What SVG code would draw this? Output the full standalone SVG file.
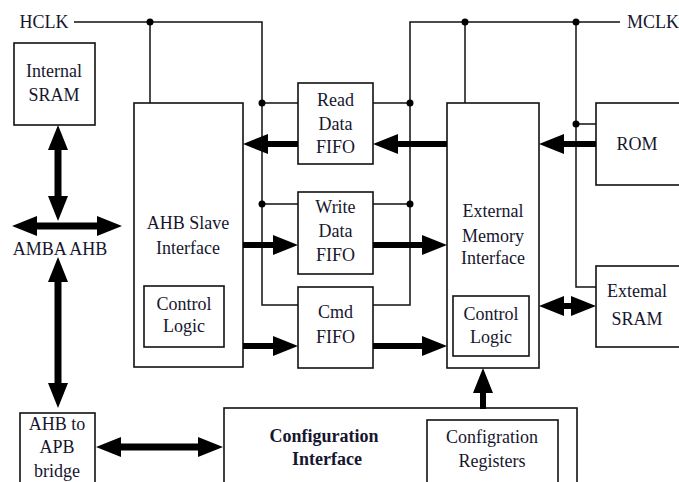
<svg xmlns="http://www.w3.org/2000/svg" width="679" height="482" viewBox="0 0 679 482">
  <defs>
    <!-- solid head for the thick bus arrows; base sits on the path end -->
    <marker id="head" markerUnits="userSpaceOnUse" markerWidth="25" markerHeight="20" viewBox="0 0 25 20" refX="1" refY="10" orient="auto-start-reverse">
      <path d="M0,0 L25,10 L0,20 Z" fill="#000"/>
    </marker>
  </defs>
  <style>
    .box{fill:#fff;stroke:#111;stroke-width:1.6}
    .wire{fill:none;stroke:#111;stroke-width:1.5}
    .bus{fill:none;stroke:#000;stroke-width:6}
    .wide{stroke-width:7}
    .dot{fill:#000}
    text{font-family:"Liberation Serif","Times New Roman",serif;font-size:18px;fill:#16162e;text-anchor:middle}
    .b{font-weight:bold}
  </style>

  <rect width="679" height="482" fill="#fff"/>

  <!-- clock labels -->
  <text x="44" y="28">HCLK</text>
  <text x="653" y="28">MCLK</text>

  <!-- nodes -->
  <g id="internal-sram">
    <rect class="box" x="14" y="43" width="81" height="82"/>
    <text x="54" y="77">Internal</text>
    <text x="54" y="101">SRAM</text>
  </g>

  <g id="amba-ahb">
    <text x="60" y="255">AMBA AHB</text>
  </g>

  <g id="ahb-slave">
    <rect class="box" x="134" y="103" width="109" height="264"/>
    <text x="188" y="229">AHB Slave</text>
    <text x="188" y="254">Interface</text>
    <rect class="box" x="144" y="286" width="80" height="61"/>
    <text x="184" y="310">Control</text>
    <text x="184" y="332">Logic</text>
  </g>

  <g id="read-fifo">
    <rect class="box" x="298" y="83" width="75" height="81"/>
    <text x="335.5" y="106">Read</text>
    <text x="335.5" y="130">Data</text>
    <text x="335.5" y="153">FIFO</text>
  </g>

  <g id="write-fifo">
    <rect class="box" x="298" y="192" width="75" height="82"/>
    <text x="335.5" y="213">Write</text>
    <text x="335.5" y="237">Data</text>
    <text x="335.5" y="261">FIFO</text>
  </g>

  <g id="cmd-fifo">
    <rect class="box" x="298" y="287" width="75" height="81"/>
    <text x="335.5" y="318">Cmd</text>
    <text x="335.5" y="343">FIFO</text>
  </g>

  <g id="ext-mem-if">
    <rect class="box" x="447" y="103" width="92" height="265"/>
    <text x="493" y="217">External</text>
    <text x="493" y="242">Memory</text>
    <text x="493" y="264">Interface</text>
    <rect class="box" x="453" y="296" width="76" height="60"/>
    <text x="491" y="320">Control</text>
    <text x="491" y="343">Logic</text>
  </g>

  <g id="rom">
    <rect class="box" x="596" y="103" width="90" height="82"/>
    <text x="637" y="150">ROM</text>
  </g>

  <g id="external-sram">
    <rect class="box" x="596" y="266" width="90" height="81"/>
    <text x="637" y="297">Extemal</text>
    <text x="637" y="325">SRAM</text>
  </g>

  <g id="ahb-apb-bridge">
    <rect class="box" x="20" y="413" width="75" height="74"/>
    <text x="57" y="430">AHB to</text>
    <text x="57" y="453">APB</text>
    <text x="57" y="477">bridge</text>
  </g>

  <g id="config-if">
    <rect class="box" x="224" y="408" width="353" height="80"/>
    <text class="b" x="324" y="442">Configuration</text>
    <text class="b" x="327" y="465">Interface</text>
    <rect class="box" x="427" y="420" width="131" height="68"/>
    <text x="492" y="443">Configration</text>
    <text x="492" y="467">Registers</text>
  </g>

  <!-- connectors -->
  <g id="connectors">
    <!-- HCLK distribution -->
    <path class="wire" d="M74,22 H262 V305 H298"/>
    <path class="wire" d="M150,22 V103"/>
    <path class="wire" d="M262,103 H298 M262,204 H298"/>
    <!-- MCLK distribution -->
    <path class="wire" d="M373,305 H410 V22 H620"/>
    <path class="wire" d="M373,103 H410 M373,204 H410"/>
    <path class="wire" d="M465,22 V103"/>
    <path class="wire" d="M576,22 V287 H596 M576,124 H596"/>
    <g class="dot">
      <circle cx="150" cy="22" r="3.5"/>
      <circle cx="262" cy="103" r="3.5"/>
      <circle cx="262" cy="204" r="3.5"/>
      <circle cx="410" cy="103" r="3.5"/>
      <circle cx="410" cy="204" r="3.5"/>
      <circle cx="465" cy="22" r="3.5"/>
      <circle cx="576" cy="22" r="3.5"/>
      <circle cx="576" cy="124" r="3.5"/>
    </g>

    <!-- data paths -->
    <path class="bus" d="M596,144 H563" marker-end="url(#head)"/>
    <path class="bus" d="M447,144 H397" marker-end="url(#head)"/>
    <path class="bus" d="M298,144 H267" marker-end="url(#head)"/>
    <path class="bus" d="M243,245 H274" marker-end="url(#head)"/>
    <path class="bus" d="M373,245 H423" marker-end="url(#head)"/>
    <path class="bus" d="M243,346 H274" marker-end="url(#head)"/>
    <path class="bus" d="M373,346 H423" marker-end="url(#head)"/>
    <path class="bus" d="M483,409 V392" marker-end="url(#head)"/>
    <path class="bus" d="M563,306 H572" marker-start="url(#head)" marker-end="url(#head)"/>

    <!-- AMBA AHB bus -->
    <path class="bus wide" d="M58,149 V197" marker-start="url(#head)" marker-end="url(#head)"/>
    <path class="bus wide" d="M36,226 H98" marker-start="url(#head)" marker-end="url(#head)"/>
    <path class="bus wide" d="M58,281 V384" marker-start="url(#head)" marker-end="url(#head)"/>
    <path class="bus wide" d="M120,447 H199" marker-start="url(#head)" marker-end="url(#head)"/>
  </g>
</svg>
